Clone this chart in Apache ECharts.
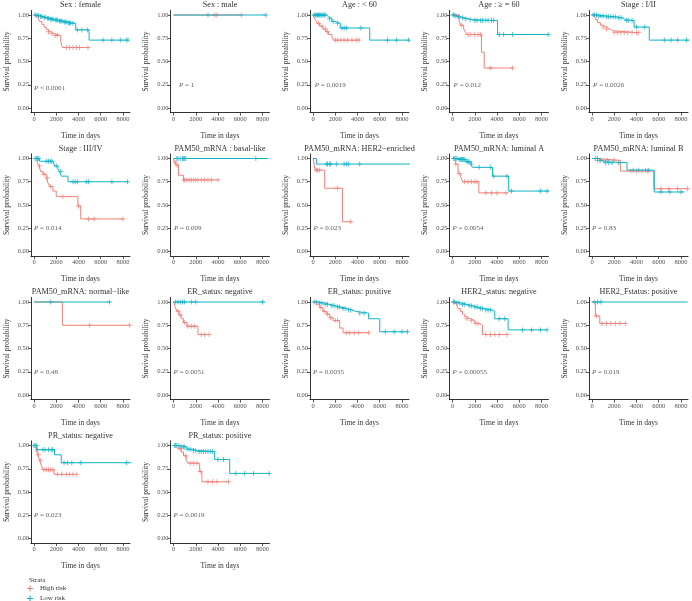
<!DOCTYPE html>
<html><head><meta charset="utf-8">
<script src="https://cdn.jsdelivr.net/npm/echarts@6/dist/echarts.min.js"></script>
<style>html,body{margin:0;padding:0;background:#fff}#c{width:692px;height:601px}</style>
</head><body><div id="c"></div>
<script>
const xTicks = [0, 2000, 4000, 6000, 8000];
const yTicks = [0, 0.25, 0.5, 0.75, 1];
const panelTitles = ['Sex : female','Sex : male','Age : < 60','Age : ≥ = 60','Stage : I/II',
  'Stage : III/IV','PAM50_mRNA : basal-like','PAM50_mRNA: HER2−enriched','PAM50_mRNA: luminal A','PAM50_mRNA: luminal B',
  'PAM50_mRNA: normal−like','ER_status: negative','ER_status: positive','HER2_status: negative','HER2_Fstatus: positive',
  'PR_status: negative','PR_status: positive'];
const pValues = ['< 0.0001','= 1','= 0.0019','= 0.012','= 0.0026','= 0.014','= 0.009','= 0.023','= 0.0054','= 0.83',
  '= 0.48','= 0.0051','= 0.0035','= 0.00055','= 0.019','= 0.023','= 0.0019'];
const strata = ['High risk','Low risk'];

// Sex : female
const femaleHigh = [[0,1],[150,0.98],[350,0.96],[500,0.93],[700,0.9],[900,0.87],[1100,0.845],[1300,0.82],[1500,0.8],[1800,0.78],[2400,0.72],[2550,0.65],[4850,0.65]];
const femaleHighCens = [1300,1600,1900,2100,2900,3200,3500,3800,4100,4850];
const femaleLow = [[0,1],[200,0.995],[500,0.985],[800,0.975],[1100,0.965],[1400,0.955],[1800,0.945],[2200,0.935],[2600,0.925],[3000,0.915],[3400,0.91],[3750,0.84],[4950,0.73],[8450,0.73]];
const femaleLowCens = [100,250,400,600,700,900,1000,1200,1300,1500,1600,1700,1900,2000,2100,2300,2400,2500,2700,2800,2900,3100,3200,3300,3500,3900,4300,4800,6200,7000,7800,8300,8450];
// Sex : male
const maleHigh = [[0,1],[6100,1]];
const maleHighCens = [3700,3900,6100];
const maleLow = [[0,1],[8300,1]];
const maleLowCens = [3100,8300];
// Age < 60
const youngHigh = [[0,1],[100,0.97],[250,0.94],[400,0.91],[600,0.88],[900,0.85],[1150,0.82],[1400,0.79],[1700,0.76],[1850,0.73],[4150,0.73]];
const youngHighCens = [500,800,1100,1300,2000,2200,2500,2800,3100,3500,3900,4150];
const youngLow = [[0,1],[1200,0.98],[1400,0.96],[1700,0.93],[2000,0.91],[2450,0.86],[5100,0.73],[8700,0.73]];
const youngLowCens = [100,200,300,400,500,600,700,800,900,1000,1100,1500,1800,2200,2600,2800,3000,4300,6700,7500,8600];
// Age >= 60
const oldHigh = [[0,1],[600,0.93],[750,0.89],[1000,0.85],[1150,0.82],[1300,0.79],[2600,0.6],[2850,0.43],[5400,0.43]];
const oldHighCens = [800,1400,1600,2000,2300,2500,3400,5400];
const oldLow = [[0,1],[200,0.99],[400,0.98],[700,0.97],[1000,0.96],[1400,0.95],[1800,0.94],[4050,0.79],[8700,0.79]];
const oldLowCens = [50,150,300,500,600,900,1200,1600,2000,2200,2500,2700,3000,3200,3500,3700,4200,4600,5400,8600];
// Stage I/II
const earlyHigh = [[0,1],[150,0.98],[300,0.95],[500,0.92],[750,0.89],[1000,0.87],[1300,0.85],[1600,0.83],[1850,0.81],[4200,0.81]];
const earlyHighCens = [1000,1300,2000,2300,2600,2900,3200,3600,4000,4200];
const earlyLow = [[0,1],[500,0.99],[1200,0.98],[2200,0.97],[2700,0.95],[3000,0.94],[3780,0.87],[5150,0.73],[8750,0.73]];
const earlyLowCens = [100,200,400,600,800,1000,1300,1500,1700,1900,2100,2400,2600,3100,3300,3600,4000,4700,6500,7100,7700,8500];
// Stage III/IV
const lateHigh = [[0,1],[300,0.95],[450,0.92],[600,0.86],[800,0.83],[1100,0.79],[1250,0.74],[1400,0.7],[1700,0.65],[2000,0.59],[3950,0.49],[4200,0.35],[8000,0.35]];
const lateHighCens = [500,900,1200,1500,2600,4000,4900,5400,8000];
const lateLow = [[0,1],[500,0.97],[1700,0.95],[1850,0.92],[2150,0.89],[2300,0.86],[2450,0.81],[3050,0.75],[8450,0.75]];
const lateLowCens = [100,200,300,400,1100,1300,1500,1600,2000,2400,3500,3700,3900,4700,4900,7000,8400];
// basal-like
const basalHigh = [[0,1],[100,0.96],[250,0.93],[450,0.82],[900,0.77],[4050,0.77]];
const basalHighCens = [150,300,900,1000,1200,1400,1600,1800,2000,2200,2500,2800,3100,3400,4000];
const basalLow = [[0,1],[8500,1]];
const basalLowCens = [300,400,600,800,900,1000,1100,7400];
// HER2-enriched
const her2eHigh = [[0,1],[100,0.94],[200,0.875],[1050,0.68],[2650,0.32],[3450,0.32]];
const her2eHighCens = [300,400,600,2200,3400];
const her2eLow = [[0,1],[300,0.94],[8750,0.94]];
const her2eLowCens = [1200,1300,1500,1600,2100,2800,3000,3200,4200];
// luminal A
const lumAHigh = [[0,1],[280,0.94],[500,0.84],[750,0.8],[900,0.75],[2370,0.63],[4990,0.63]];
const lumAHighCens = [300,600,1100,1400,1700,2000,2200,3000,3500,4000,4800];
const lumALow = [[0,1],[500,0.99],[1200,0.965],[1650,0.94],[1800,0.905],[3600,0.81],[5050,0.65],[8800,0.65]];
const lumALowCens = [100,200,300,400,600,700,800,900,1000,1100,1300,1400,1500,1700,2400,3400,3700,4900,5300,7900,8500,8800];
// luminal B
const lumBHigh = [[0,1],[200,0.98],[2550,0.865],[5550,0.675],[8650,0.675]];
const lumBHighCens = [500,1000,1400,2000,3500,4000,4500,5000,6200,6900,7700,8600];
const lumBLow = [[0,1],[600,0.98],[900,0.965],[1200,0.955],[3150,0.875],[5600,0.64],[8300,0.64]];
const lumBLowCens = [300,500,700,800,1200,1500,1800,2400,3700,4200,4800,5100,6200,7000,8000];
// normal-like
const normalHigh = [[0,1],[2550,0.75],[8600,0.75]];
const normalHighCens = [5000,8600];
const normalLow = [[0,1],[6800,1]];
const normalLowCens = [1500,6800];
// ER negative
const erNegHigh = [[0,1],[150,0.95],[300,0.9],[500,0.86],[700,0.82],[900,0.78],[1200,0.74],[2200,0.65],[3200,0.65]];
const erNegHighCens = [400,600,1000,1300,1600,1900,2500,2800,3200];
const erNegLow = [[0,1],[8200,1]];
const erNegLowCens = [200,400,600,800,1000,1600,2000,8000];
// ER positive
const erPosHigh = [[0,1],[300,0.97],[600,0.94],[900,0.9],[1200,0.87],[1500,0.83],[1800,0.8],[2400,0.72],[2700,0.67],[5000,0.67]];
const erPosHighCens = [700,1000,1300,1600,2000,2200,3000,3300,3700,4100,5000];
const erPosLow = [[0,1],[500,0.99],[1000,0.975],[1500,0.96],[2000,0.945],[2500,0.93],[3000,0.915],[3500,0.9],[3800,0.88],[5000,0.82],[6000,0.68],[8500,0.68]];
const erPosLowCens = [100,300,600,800,1100,1300,1700,1900,2200,2400,2700,2900,3200,3400,4200,4600,6500,7300,8000,8500];
// HER2 negative
const her2NegHigh = [[0,1],[150,0.98],[350,0.96],[500,0.93],[700,0.9],[900,0.87],[1100,0.84],[1300,0.82],[1600,0.8],[2000,0.77],[2400,0.75],[2700,0.65],[4900,0.65]];
const her2NegHighCens = [1300,1700,2100,2300,3000,3400,3800,4200,4900];
const her2NegLow = [[0,1],[300,0.99],[800,0.975],[1300,0.96],[1800,0.945],[2300,0.93],[2800,0.915],[3500,0.9],[3800,0.82],[5000,0.7],[8500,0.7]];
const her2NegLowCens = [100,200,400,600,900,1100,1500,1700,2000,2200,2500,2700,3000,3200,3400,4200,4700,6300,7100,7900,8500];
// HER2 positive
const her2PosHigh = [[0,1],[300,0.85],[700,0.77],[3000,0.77]];
const her2PosHighCens = [400,900,1300,1700,2100,2500,3000];
const her2PosLow = [[0,1],[8600,1]];
const her2PosLowCens = [200,500,800];
// PR negative
const prNegHigh = [[0,1],[200,0.95],[350,0.9],[500,0.84],[650,0.79],[800,0.74],[1800,0.69],[3850,0.69]];
const prNegHighCens = [400,600,900,1100,1300,1500,1700,2100,2500,2900,3200,3500,3850];
const prNegLow = [[0,1],[250,0.955],[1850,0.9],[2450,0.815],[8750,0.815]];
const prNegLowCens = [0,100,200,300,800,1000,1300,1600,1700,2700,3000,3400,4200,8300];
// PR positive
const prPosHigh = [[0,1],[400,0.965],[700,0.93],[900,0.89],[1150,0.84],[1300,0.81],[2350,0.72],[2550,0.61],[4950,0.61]];
const prPosHighCens = [600,1100,1500,1800,2100,2400,3100,3500,3900,4950];
const prPosLow = [[0,1],[600,0.985],[1200,0.96],[1700,0.945],[2100,0.935],[3700,0.85],[5050,0.7],[8800,0.7]];
const prPosLowCens = [100,200,300,500,700,900,1000,1300,1500,1800,2000,2300,2500,2700,2900,3100,3300,3500,4000,4500,5600,6400,7200,8600];

const curves = [
  [femaleHigh,femaleHighCens,femaleLow,femaleLowCens],
  [maleHigh,maleHighCens,maleLow,maleLowCens],
  [youngHigh,youngHighCens,youngLow,youngLowCens],
  [oldHigh,oldHighCens,oldLow,oldLowCens],
  [earlyHigh,earlyHighCens,earlyLow,earlyLowCens],
  [lateHigh,lateHighCens,lateLow,lateLowCens],
  [basalHigh,basalHighCens,basalLow,basalLowCens],
  [her2eHigh,her2eHighCens,her2eLow,her2eLowCens],
  [lumAHigh,lumAHighCens,lumALow,lumALowCens],
  [lumBHigh,lumBHighCens,lumBLow,lumBLowCens],
  [normalHigh,normalHighCens,normalLow,normalLowCens],
  [erNegHigh,erNegHighCens,erNegLow,erNegLowCens],
  [erPosHigh,erPosHighCens,erPosLow,erPosLowCens],
  [her2NegHigh,her2NegHighCens,her2NegLow,her2NegLowCens],
  [her2PosHigh,her2PosHighCens,her2PosLow,her2PosLowCens],
  [prNegHigh,prNegHighCens,prNegLow,prNegLowCens],
  [prPosHigh,prPosHighCens,prPosLow,prPosLowCens]
];
const pX = [0,500,150,100,100, 0,50,50,0,0, 0,0,0,0,0, 0,0];
const pY = [0.21,0.25,0.25,0.25,0.25, 0.25,0.25,0.25,0.25,0.25, 0.25,0.25,0.25,0.25,0.25, 0.25,0.25];

const RED = '#F08078', BLUE = '#11B3C8';
const FONT = 'Liberation Serif';
const INK = '#333';
const PLUS = 'path://M-0.18,-1H0.18V-0.18H1V0.18H0.18V1H-0.18V0.18H-1V-0.18H-0.18Z';
const PW = 99, UNIT = 93;
const colLeft = c => 31 + 139.5 * c;
const rowY1 = r => 15 + 143.5 * r;

function survAt(steps, t) { let s = steps[0][1]; for (const p of steps) if (p[0] <= t) s = p[1]; return s; }

const grid = [], xAxis = [], yAxis = [], series = [], graphic = [];
curves.forEach((cv, i) => {
  const c = i % 5, r = Math.floor(i / 5);
  const left = colLeft(c), y1 = rowY1(r);
  grid.push({left: left, top: y1 - 0.05 * UNIT, width: PW, height: 1.1 * UNIT});
  xAxis.push({gridIndex: i, type: 'value', min: -270, max: 8630,
    axisLine: {show: true, onZero: false, lineStyle: {color: '#000', width: 0.8}},
    axisTick: {show: true, customValues: xTicks, length: 3, lineStyle: {color: '#333', width: 0.8}},
    axisLabel: {customValues: xTicks, formatter: v => String(v), fontSize: 6.5, color: '#4d4d4d', margin: 3, fontFamily: FONT},
    splitLine: {show: false},
    name: 'Time in days', nameLocation: 'middle', nameGap: 19,
    nameTextStyle: {fontSize: 7.5, fontWeight: 'normal', fontFamily: FONT, color: INK}});
  yAxis.push({gridIndex: i, type: 'value', min: -0.05, max: 1.05,
    axisLine: {show: true, onZero: false, lineStyle: {color: '#000', width: 0.8}},
    axisTick: {show: true, customValues: yTicks, length: 3, lineStyle: {color: '#333', width: 0.8}},
    axisLabel: {customValues: yTicks, formatter: v => v.toFixed(2), fontSize: 6.5, color: '#4d4d4d', margin: 2, fontFamily: FONT},
    splitLine: {show: false},
    name: 'Survival probability', nameLocation: 'middle', nameGap: 20,
    nameTextStyle: {fontSize: 7.5, fontWeight: 'normal', fontFamily: FONT, color: INK}});
  [[cv[0], cv[1], RED, strata[0]], [cv[2], cv[3], BLUE, strata[1]]].forEach(([steps, cens, col, nm]) => {
    series.push({type: 'line', name: nm, xAxisIndex: i, yAxisIndex: i, data: steps, step: 'end',
      showSymbol: false, symbol: 'none', lineStyle: {color: col, width: 1}, itemStyle: {color: col},
      animation: false, silent: true});
    series.push({type: 'scatter', name: nm, xAxisIndex: i, yAxisIndex: i,
      data: cens.map(t => [t, survAt(steps, t)]), symbol: PLUS, symbolSize: 5,
      itemStyle: {color: col}, animation: false, silent: true});
  });
  series.push({type: 'scatter', xAxisIndex: i, yAxisIndex: i, data: [[pX[i], pY[i]]], symbolSize: 0,
    silent: true, animation: false,
    label: {show: true, position: 'right', distance: 0, formatter: '{i|P} ' + pValues[i].replace(/ /g, '\u00a0'),
      fontSize: 7, fontFamily: FONT, color: INK,
      rich: {i: {fontStyle: 'italic', fontSize: 7, fontFamily: FONT, color: INK}}}});
  graphic.push({type: 'text', x: left + PW / 2, y: y1 - 10, silent: true,
    style: {text: panelTitles[i], align: 'center', verticalAlign: 'middle', fontSize: 8.2, fontFamily: FONT, fill: INK}});
});
graphic.push({type: 'text', x: 29, y: 580, silent: true,
  style: {text: 'Strata', verticalAlign: 'middle', fontSize: 7, fontFamily: FONT, fill: INK}});

const legendBase = {orient: 'vertical', left: 27, itemWidth: 6, itemHeight: 6, selectedMode: false,
  textStyle: {fontSize: 7, fontFamily: FONT, color: INK, padding: [0, 0, 0, 2]}, padding: 0};
const chart = echarts.init(document.getElementById('c'), null, {renderer: 'canvas'});
chart.setOption({
  backgroundColor: '#fff',
  animation: false,
  grid, xAxis, yAxis, series, graphic,
  legend: [
    Object.assign({}, legendBase, {data: [{name: strata[0], icon: PLUS}], top: 585}),
    Object.assign({}, legendBase, {data: [{name: strata[1], icon: PLUS}], top: 595})
  ]
});
</script></body></html>
